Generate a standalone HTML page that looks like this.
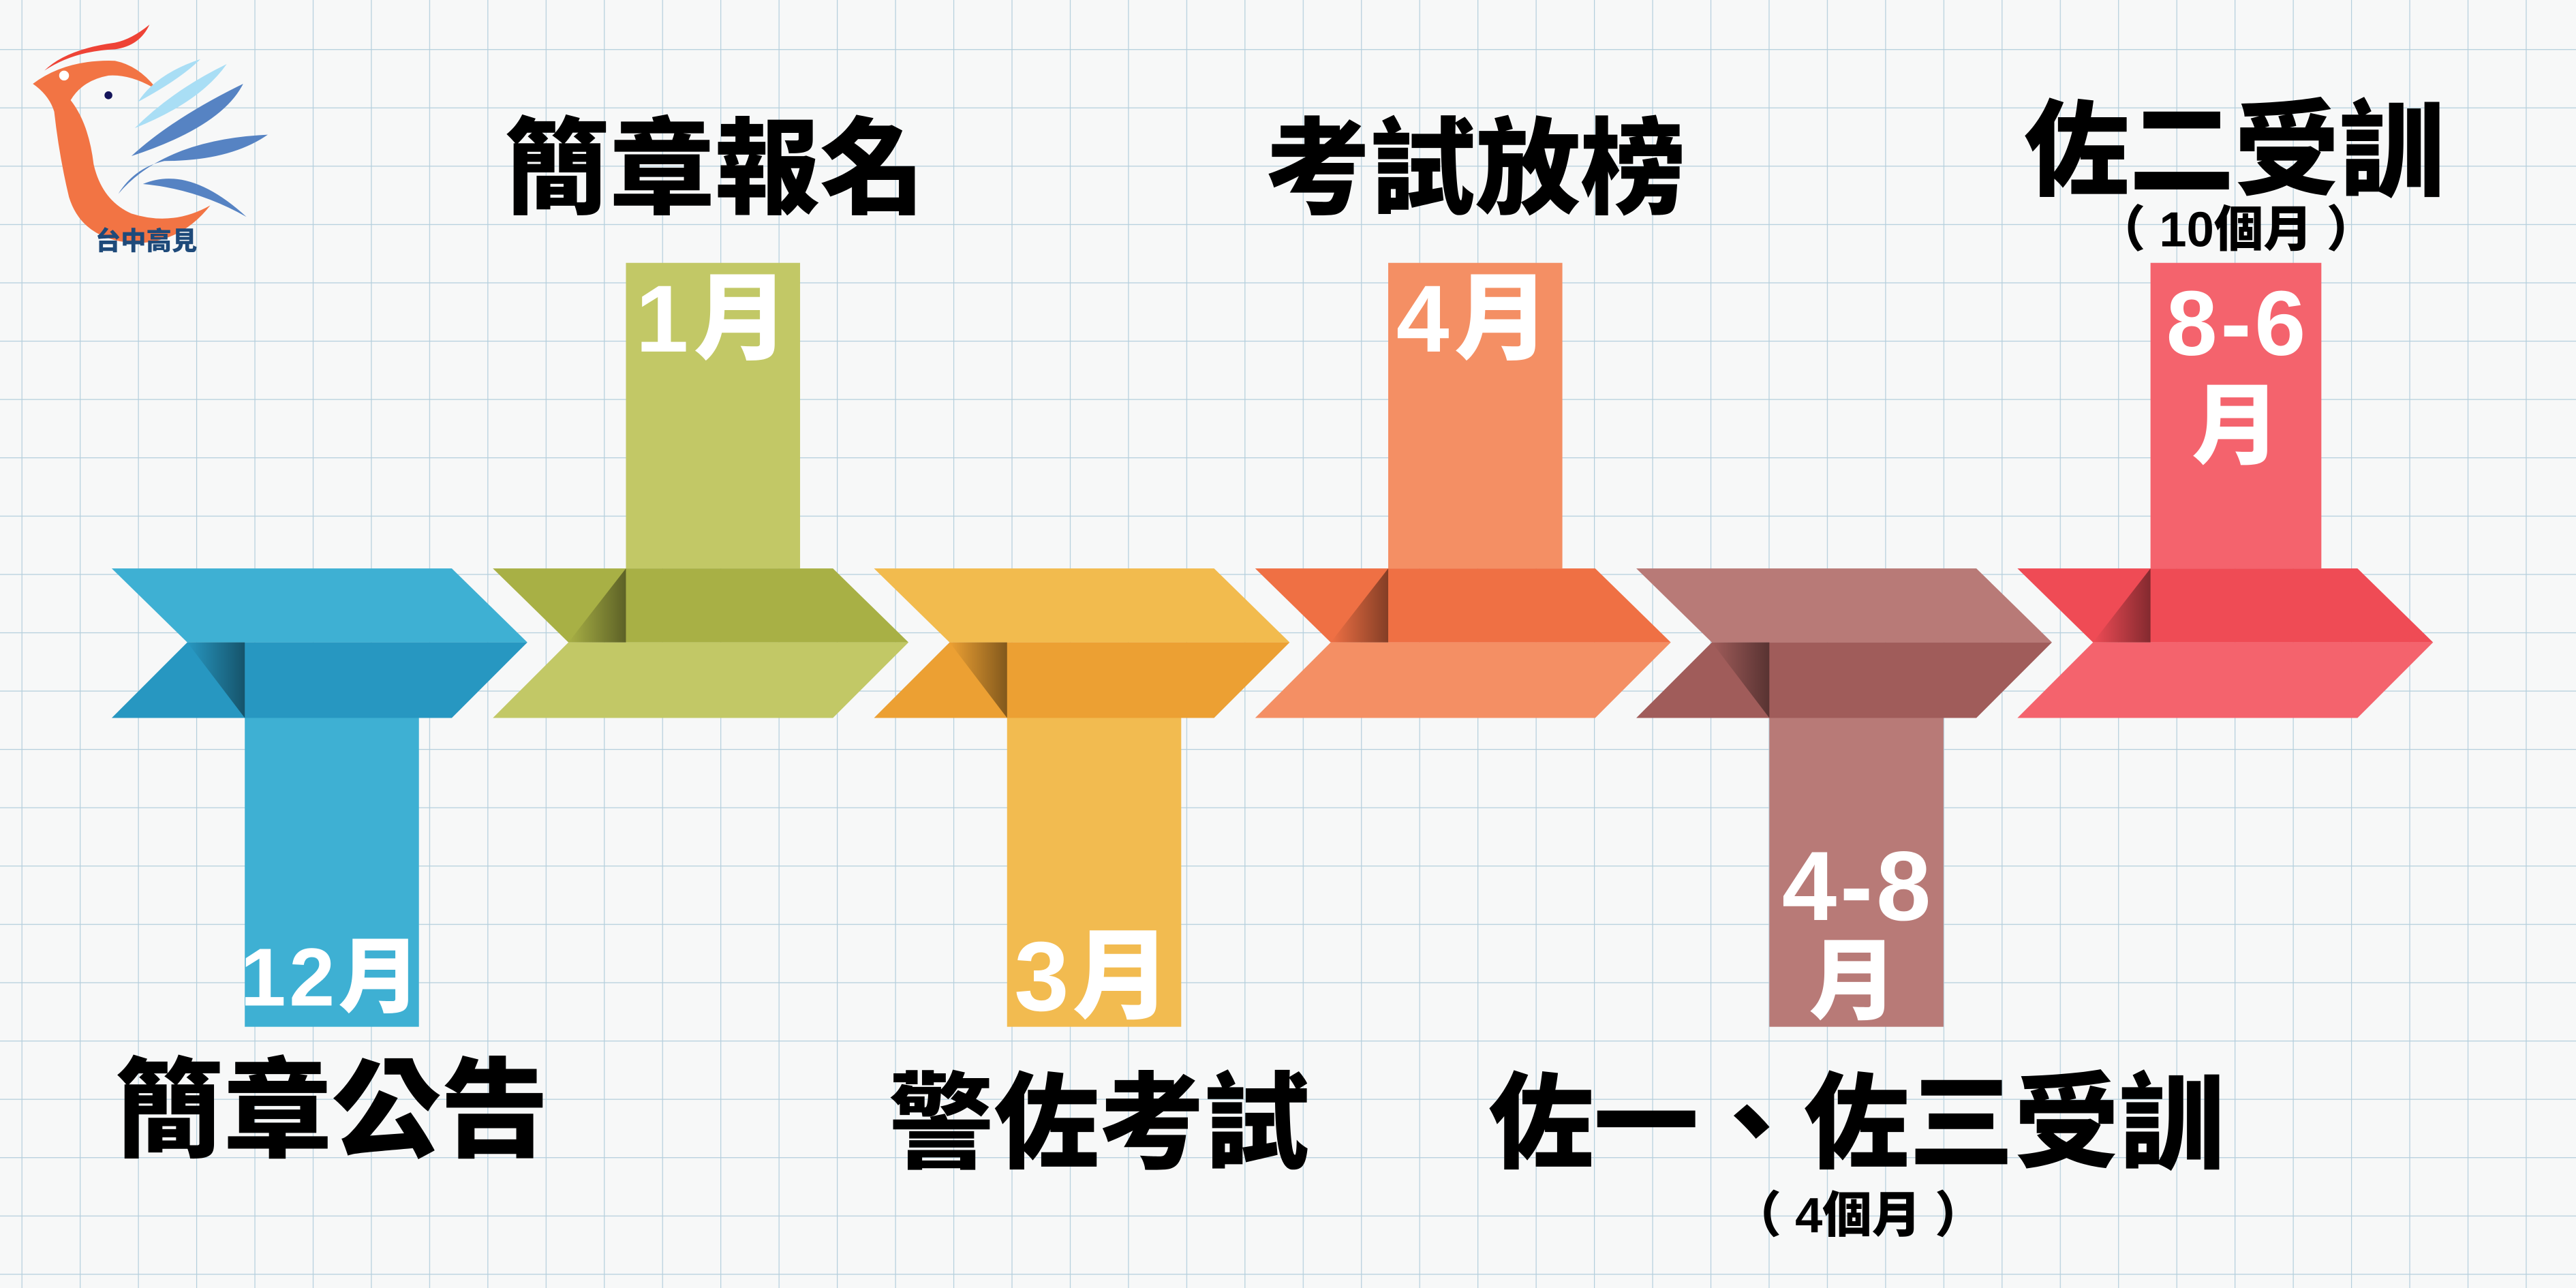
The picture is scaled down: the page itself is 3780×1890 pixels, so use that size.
<!DOCTYPE html>
<html><head><meta charset="utf-8"><style>
html,body{margin:0;padding:0;background:#f7f7f7;overflow:hidden}
svg{display:block}
text{font-family:"Liberation Sans","Noto Sans CJK TC","Noto Sans CJK SC",sans-serif;font-weight:900}
</style></head><body>
<svg width="3780" height="1890" viewBox="0 0 1568 784" xmlns="http://www.w3.org/2000/svg">
<defs>
<pattern id="grid" x="13.1" y="29.9" width="35.45" height="35.5" patternUnits="userSpaceOnUse">
<rect width="35.45" height="35.5" fill="#f7f8f8"/>
<line x1="0" y1="0" x2="0" y2="35.5" stroke="#b3cedc" stroke-width="1"/>
<line x1="0" y1="0" x2="35.45" y2="0" stroke="#b3cedc" stroke-width="1"/>
</pattern>
<linearGradient id="sh" x1="0" y1="0" x2="1" y2="0">
<stop offset="0" stop-color="#000" stop-opacity="0"/>
<stop offset="1" stop-color="#000" stop-opacity="0.45"/>
</linearGradient>
</defs>
<rect width="1568" height="784" fill="url(#grid)"/>

<!-- logo -->
<g>
<path d="M27,43 Q40,30 70,26 Q80,24 91,15 Q85,28 70,30 Q45,31 27,43Z" fill="#ee4336"/>
<path d="M20,51 Q40,36 70,37 Q85,40 96,55 Q80,45 66,46 Q50,49 43,61 Q54,75 57,100 Q62,122 80,130 Q105,138 128,125 Q110,148 82,148 Q50,146 42,120 Q36,95 33,68 Q30,58 20,51Z" fill="#f27444"/>
<circle cx="39" cy="46" r="3" fill="#fff"/>
<circle cx="66" cy="58" r="2.4" fill="#14145a"/>
<path d="M84,62 Q95,45 122,36 Q110,48 84,62Z" fill="#a9def5"/>
<path d="M82,78 Q105,55 138,39 Q122,62 82,78Z" fill="#a9def5"/>
<path d="M80,95 Q105,72 148,51 Q135,77 80,95Z" fill="#5683c3"/>
<path d="M72,118 Q100,85 163,82 Q140,98 100,98 Q82,102 72,118Z" fill="#5683c3"/>
<path d="M87,112 Q115,100 150,132 Q120,115 87,112Z" fill="#5683c3"/>
<text x="89" y="152" font-size="15.5" fill="#1e4a7a" text-anchor="middle">台中高見</text>
</g>

<!-- blue (down) -->
<g>
<rect x="149" y="437" width="106" height="188" fill="#3eb0d3"/>
<polygon points="68,346 275,346 321,391 114,391" fill="#3eb0d3"/>
<polygon points="114,391 321,391 275,437 68,437" fill="#2797c1"/>
<polygon points="114,391 149,391 149,437" fill="url(#sh)"/>
</g>
<!-- green (up) -->
<g>
<rect x="381" y="160" width="106" height="186" fill="#c2c866"/>
<polygon points="300,346 507,346 553,391 346,391" fill="#a8b045"/>
<polygon points="346,391 553,391 507,437 300,437" fill="#c2c866"/>
<polygon points="346,391 381,346 381,391" fill="url(#sh)"/>
</g>
<!-- yellow (down) -->
<g>
<rect x="613" y="437" width="106" height="188" fill="#f2bb50"/>
<polygon points="532,346 739,346 785,391 578,391" fill="#f2bb4e"/>
<polygon points="578,391 785,391 739,437 532,437" fill="#eca033"/>
<polygon points="578,391 613,391 613,437" fill="url(#sh)"/>
</g>
<!-- orange (up) -->
<g>
<rect x="845" y="160" width="106" height="186" fill="#f48f64"/>
<polygon points="764,346 971,346 1017,391 810,391" fill="#ef7044"/>
<polygon points="810,391 1017,391 971,437 764,437" fill="#f48f64"/>
<polygon points="810,391 845,346 845,391" fill="url(#sh)"/>
</g>
<!-- mauve (down) -->
<g>
<rect x="1077" y="437" width="106" height="188" fill="#b87a77"/>
<polygon points="996,346 1203,346 1249,391 1042,391" fill="#b87a77"/>
<polygon points="1042,391 1249,391 1203,437 996,437" fill="#a05c5a"/>
<polygon points="1042,391 1077,391 1077,437" fill="url(#sh)"/>
</g>
<!-- red (up) -->
<g>
<rect x="1309" y="160" width="104" height="186" fill="#f4636d"/>
<polygon points="1228,346 1435,346 1481,391 1274,391" fill="#ef4b55"/>
<polygon points="1274,391 1481,391 1435,437 1228,437" fill="#f4636d"/>
<polygon points="1274,391 1309,346 1309,391" fill="url(#sh)"/>
</g>

<!-- stem labels -->
<g fill="#fff" text-anchor="middle">
<text x="435" y="214" font-size="58" letter-spacing="3">1月</text>
<text x="898" y="214" font-size="58" letter-spacing="3">4月</text>
<text x="1362" y="216" font-size="56" letter-spacing="2">8-6</text>
<text x="1361" y="278" font-size="54">月</text>
<text x="202" y="612" font-size="50" letter-spacing="2">12月</text>
<text x="666" y="615" font-size="60" letter-spacing="2">3月</text>
<text x="1131" y="560" font-size="60" letter-spacing="2">4-8</text>
<text x="1128" y="616" font-size="54">月</text>
</g>

<!-- titles -->
<g fill="#000" text-anchor="middle">
<text x="435" y="125" font-size="64">簡章報名</text>
<text x="898" y="125" font-size="64">考試放榜</text>
<text x="1360" y="114" font-size="64">佐二受訓</text>
<text x="1361" y="150" font-size="30">（ 10個月 ）</text>
<text x="202" y="699" font-size="66">簡章公告</text>
<text x="669" y="706" font-size="64">警佐考試</text>
<text x="1130" y="706" font-size="64">佐一、佐三受訓</text>
<text x="1131" y="750" font-size="30">（ 4個月 ）</text>
</g>
</svg>
</body></html>
